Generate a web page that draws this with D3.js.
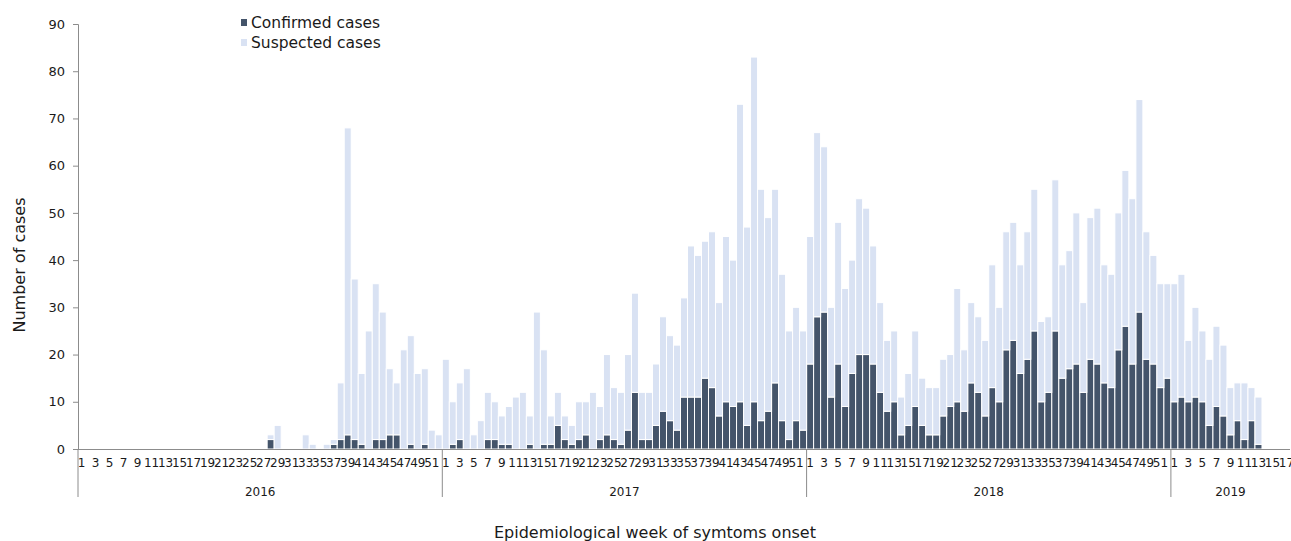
<!DOCTYPE html>
<html>
<head>
<meta charset="utf-8">
<script src="https://cdnjs.cloudflare.com/ajax/libs/d3/7.8.5/d3.min.js"></script>
<style>
  html, body { margin: 0; padding: 0; background: #fff; }
  svg { display: block; font-family: "DejaVu Sans", Verdana, sans-serif; }
</style>
</head>
<body>
<svg id="chart" width="1291" height="541"></svg>
<script>
// ---- Data ----
const years = ["2016", "2017", "2018", "2019"];
const weeksPerYear = [52, 52, 52, 17];

// Total cases per week (confirmed + suspected) and confirmed cases per week
const total2016 = [0,0,0,0,0,0,0,0,0,0, 0,0,0,0,0,0,0,0,0,0, 0,0,0,0,0,0,0,3,5,0, 0,0,3,1,0,1,2,14,68,36, 16,25,35,29,17,14,21,24,16,17, 4,3];
const confirmed2016 = [0,0,0,0,0,0,0,0,0,0, 0,0,0,0,0,0,0,0,0,0, 0,0,0,0,0,0,0,2,0,0, 0,0,0,0,0,0,1,2,3,2, 1,0,2,2,3,3,0,1,0,1, 0,0];

const total2017 = [19,10,14,17,3,6,12,10,7,9, 11,12,7,29,21,7,12,7,5,10, 10,12,9,20,13,12,20,33,12,12, 18,28,24,22,32,43,41,44,46,31, 45,40,73,47,83,55,49,55,37,25, 30,25];
const confirmed2017 = [0,1,2,0,0,0,2,2,1,1, 0,0,1,0,1,1,5,2,1,2, 3,0,2,3,2,1,4,12,2,2, 5,8,6,4,11,11,11,15,13,7, 10,9,10,5,10,6,8,14,6,2, 6,4];

const total2018 = [45,67,64,30,48,34,40,53,51,43, 31,23,25,11,16,25,15,13,13,19, 20,34,21,31,28,23,39,30,46,48, 39,46,55,27,28,57,39,42,50,31, 49,51,39,37,50,59,53,74,46,41, 35,35];
const confirmed2018 = [18,28,29,11,18,9,16,20,20,18, 12,8,10,3,5,9,5,3,3,7, 9,10,8,14,12,7,13,10,21,23, 16,19,25,10,12,25,15,17,18,12, 19,18,14,13,21,26,18,29,19,18, 13,15];

const total2019 = [35,37,23,30,25,19,26,22,13,14, 14,13,11,0,0,0,0];
const confirmed2019 = [10,11,10,11,10,5,9,7,3,6, 2,6,1,0,0,0,0];

const yTicks = [0,10,20,30,40,50,60,70,80,90];
const seriesNames = ["Confirmed cases", "Suspected cases"];
const colors = ["#44546a", "#d9e2f3"];

// ---- Build rows ----
const totals = [total2016, total2017, total2018, total2019];
const confs = [confirmed2016, confirmed2017, confirmed2018, confirmed2019];
const rows = [];
years.forEach((y, yi) => {
  for (let w = 0; w < weeksPerYear[yi]; w++) {
    const c = confs[yi][w], t = totals[yi][w];
    rows.push({ key: y + "-" + (w + 1), year: y, week: w + 1, confirmed: c, suspected: t - c });
  }
});

// ---- Layout ----
const svg = d3.select("#chart");
const x0 = 78, x1 = 1290, yBase = 449, yTop = 24;

const x = d3.scaleBand().domain(rows.map(d => d.key)).range([x0, x1]).paddingInner(0).paddingOuter(0);
const y = d3.scaleLinear().domain([0, 90]).range([yBase, yTop]);

const stack = d3.stack().keys(["confirmed", "suspected"]);
const stacked = stack(rows);

const axisColor = "#8c8c8c";

// bars
svg.append("g").selectAll("g")
  .data(stacked)
  .join("g")
  .attr("fill", (d, i) => colors[i])
  .selectAll("rect")
  .data(d => d.filter(s => s[1] - s[0] > 0))
  .join("rect")
  .attr("x", d => x(d.data.key))
  .attr("width", x.bandwidth())
  .attr("y", d => y(d[1]))
  .attr("height", d => y(d[0]) - y(d[1]))
  .attr("stroke", "#fff")
  .attr("stroke-width", 1);

// y axis
const yAxis = d3.axisLeft(y).tickValues(yTicks).tickSize(5).tickPadding(8);
const gy = svg.append("g").attr("transform", `translate(${x0},0)`).call(yAxis);
gy.select(".domain").attr("stroke", axisColor);
gy.selectAll(".tick line").attr("stroke", axisColor);
gy.selectAll(".tick text").attr("fill", "#1a1a1a").style("font-size", "13px").style("font-family", "DejaVu Sans");

// x axis (week labels)
const xAxis = d3.axisBottom(x)
  .tickValues(rows.filter(d => d.week % 2 === 1).map(d => d.key))
  .tickFormat(k => k.split("-")[1])
  .tickSize(0).tickPadding(9);
const gx = svg.append("g").attr("transform", `translate(0,${yBase})`).call(xAxis);
gx.select(".domain").attr("stroke", axisColor).attr("d", `M${x0},0.5H${x1}`);
gx.selectAll(".tick text").attr("fill", "#1a1a1a").style("font-size", "12px").style("font-family", "DejaVu Sans");

// year dividers and labels
let start = 0;
const bounds = [];
weeksPerYear.forEach((n, i) => {
  const first = rows[start].key, last = rows[start + n - 1].key;
  bounds.push({ year: years[i], a: x(first), b: x(last) + x.bandwidth() });
  start += n;
});
const gYear = svg.append("g");
bounds.forEach((bd, i) => {
  gYear.append("line")
    .attr("x1", bd.a).attr("x2", bd.a)
    .attr("y1", yBase).attr("y2", 497)
    .attr("stroke", axisColor).attr("stroke-width", 1);
  gYear.append("text")
    .attr("x", (bd.a + bd.b) / 2).attr("y", 496)
    .attr("text-anchor", "middle")
    .attr("fill", "#1a1a1a")
    .style("font-size", "12px")
    .text(bd.year);
});

// axis titles
svg.append("text")
  .attr("transform", "translate(25,265) rotate(-90)")
  .attr("text-anchor", "middle")
  .attr("fill", "#1a1a1a")
  .style("font-size", "16px")
  .text("Number of cases");

svg.append("text")
  .attr("x", 655).attr("y", 538)
  .attr("text-anchor", "middle")
  .attr("fill", "#1a1a1a")
  .style("font-size", "16px")
  .text("Epidemiological week of symtoms onset");

// legend
const lg = svg.append("g");
seriesNames.forEach((name, i) => {
  const yy = 22 + i * 20;
  lg.append("rect").attr("x", 241).attr("y", yy - 3).attr("width", 6).attr("height", 7).attr("fill", colors[i]);
  lg.append("text").attr("x", 251).attr("y", yy + 6)
    .attr("fill", "#1a1a1a").style("font-size", "15.5px").text(name);
});
</script>
</body>
</html>
